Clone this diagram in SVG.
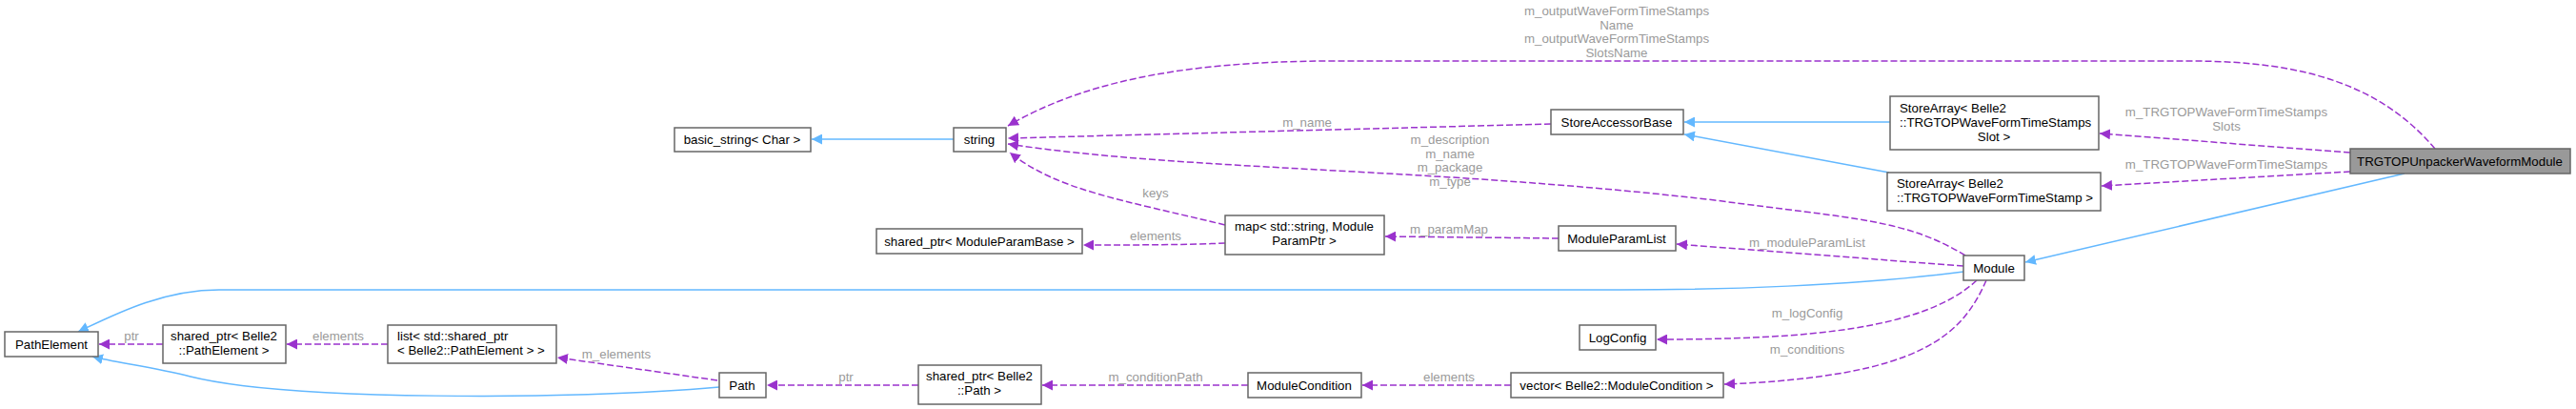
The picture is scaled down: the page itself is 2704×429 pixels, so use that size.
<svg xmlns="http://www.w3.org/2000/svg" width="2704" height="429" viewBox="0 0 2704 429">
<style>
.n rect{fill:#fff;stroke:#666;stroke-width:1.5}
.n text,.t{font-family:"Liberation Sans",Arial,sans-serif;font-size:13.3px;fill:#000;text-anchor:middle}
.l{font-family:"Liberation Sans",Arial,sans-serif;font-size:13.3px;fill:#9a9a9a;text-anchor:middle}
.d{fill:none;stroke:#9a32cd;stroke-width:1.5;stroke-dasharray:7,3}
.b{fill:none;stroke:#63b8ff;stroke-width:1.5}
</style>
<defs>
<marker id="ap" viewBox="0 0 10 10" refX="10" refY="5" markerWidth="11" markerHeight="11" markerUnits="userSpaceOnUse" orient="auto"><path d="M0,0L10,5L0,10z" fill="#9a32cd"/></marker>
<marker id="ab" viewBox="0 0 10 10" refX="10" refY="5" markerWidth="11" markerHeight="11" markerUnits="userSpaceOnUse" orient="auto"><path d="M0,0L10,5L0,10z" fill="#63b8ff"/></marker>
</defs>
<rect width="2704" height="429" fill="#fff"/>
<g id="edges">
<path class="d" marker-end="url(#ap)" d="M2556,156C2500,90 2420,64 2300,64L1400,64C1230,64 1130,90 1058,132"/>
<path class="d" marker-end="url(#ap)" d="M1628,130L1058,145"/>
<path class="d" marker-end="url(#ap)" d="M2063,268C2000,230 1950,230 1800,210C1500,175 1250,180 1058,151"/>
<path class="d" marker-end="url(#ap)" d="M1286,236C1180,210 1110,200 1060,160"/>
<path class="d" marker-end="url(#ap)" d="M1286,255C1240,257 1190,257 1137,257"/>
<path class="d" marker-end="url(#ap)" d="M1636,250L1454,248"/>
<path class="d" marker-end="url(#ap)" d="M2061,279L1760,256"/>
<path class="d" marker-end="url(#ap)" d="M2075,294C2020,345 1900,356 1739,356"/>
<path class="d" marker-end="url(#ap)" d="M2085,294C2060,350 2020,395 1810,403"/>
<path class="d" marker-end="url(#ap)" d="M1586,404L1430,404"/>
<path class="d" marker-end="url(#ap)" d="M1310,404L1094,404"/>
<path class="d" marker-end="url(#ap)" d="M964,404L805,404"/>
<path class="d" marker-end="url(#ap)" d="M753,399L585,375"/>
<path class="d" marker-end="url(#ap)" d="M407,361L301,361"/>
<path class="d" marker-end="url(#ap)" d="M171,361L104,361"/>
<path class="d" marker-end="url(#ap)" d="M2467,160L2204,140"/>
<path class="d" marker-end="url(#ap)" d="M2467,180L2206,195"/>
<path class="b" marker-end="url(#ab)" d="M1001,146L852,146"/>
<path class="b" marker-end="url(#ab)" d="M1984,128L1768,128"/>
<path class="b" marker-end="url(#ab)" d="M1983,181L1768,141"/>
<path class="b" marker-end="url(#ab)" d="M2524,182L2126,275"/>
<path class="b" marker-end="url(#ab)" d="M2061,285C1950,300 1800,304 1700,304L230,304C170,304 120,330 82,348"/>
<path class="b" marker-end="url(#ab)" d="M755,406C600,420 300,420 200,395C160,385 120,380 97,374"/>
<text class="l" x="1697" y="16">m_outputWaveFormTimeStamps</text>
<text class="l" x="1697" y="31">Name</text>
<text class="l" x="1697" y="45">m_outputWaveFormTimeStamps</text>
<text class="l" x="1697" y="60">SlotsName</text>
<text class="l" x="1372" y="133">m_name</text>
<text class="l" x="1522" y="151">m_description</text>
<text class="l" x="1522" y="166">m_name</text>
<text class="l" x="1522" y="180">m_package</text>
<text class="l" x="1522" y="195">m_type</text>
<text class="l" x="1213" y="207">keys</text>
<text class="l" x="1213" y="252">elements</text>
<text class="l" x="1521" y="245">m_paramMap</text>
<text class="l" x="1897" y="259">m_moduleParamList</text>
<text class="l" x="1897" y="333">m_logConfig</text>
<text class="l" x="1897" y="371">m_conditions</text>
<text class="l" x="1521" y="400">elements</text>
<text class="l" x="1213" y="400">m_conditionPath</text>
<text class="l" x="888" y="400">ptr</text>
<text class="l" x="647" y="376">m_elements</text>
<text class="l" x="355" y="357">elements</text>
<text class="l" x="138" y="357">ptr</text>
<text class="l" x="2337" y="122">m_TRGTOPWaveFormTimeStamps</text>
<text class="l" x="2337" y="137">Slots</text>
<text class="l" x="2337" y="177">m_TRGTOPWaveFormTimeStamps</text>
</g>
<g id="TRGTOPUnpackerWaveformModule" class="n"><rect x="2467" y="156" width="231" height="26" style="fill:#999"/><text x="2582" y="174">TRGTOPUnpackerWaveformModule</text></g>
<g id="StoreArraySlot" class="n"><rect x="1984" y="101" width="219" height="56"/><text x="1994" y="118" style="text-anchor:start">StoreArray&lt; Belle2</text><text x="1994" y="133" style="text-anchor:start">::TRGTOPWaveFormTimeStamps</text><text x="2093" y="148">Slot &gt;</text></g>
<g id="StoreArrayStamp" class="n"><rect x="1981" y="181" width="224" height="40"/><text x="1991" y="197" style="text-anchor:start">StoreArray&lt; Belle2</text><text x="1991" y="212" style="text-anchor:start">::TRGTOPWaveFormTimeStamp &gt;</text></g>
<g id="StoreAccessorBase" class="n"><rect x="1628" y="115" width="139" height="26"/><text x="1697" y="133">StoreAccessorBase</text></g>
<g id="string" class="n"><rect x="1001" y="134" width="55" height="25"/><text x="1028" y="151">string</text></g>
<g id="basic_string" class="n"><rect x="708" y="134" width="143" height="25"/><text x="779" y="151">basic_string&lt; Char &gt;</text></g>
<g id="map" class="n"><rect x="1286" y="226" width="167" height="41"/><text x="1369" y="242">map&lt; std::string, Module</text><text x="1369" y="257">ParamPtr &gt;</text></g>
<g id="shared_ptr_MPB" class="n"><rect x="920" y="240" width="216" height="26"/><text x="1028" y="258">shared_ptr&lt; ModuleParamBase &gt;</text></g>
<g id="ModuleParamList" class="n"><rect x="1636" y="237" width="123" height="26"/><text x="1697" y="255">ModuleParamList</text></g>
<g id="Module" class="n"><rect x="2061" y="268" width="64" height="26"/><text x="2093" y="286">Module</text></g>
<g id="LogConfig" class="n"><rect x="1658" y="341" width="80" height="26"/><text x="1698" y="359">LogConfig</text></g>
<g id="vector" class="n"><rect x="1586" y="391" width="223" height="26"/><text x="1697" y="409">vector&lt; Belle2::ModuleCondition &gt;</text></g>
<g id="ModuleCondition" class="n"><rect x="1310" y="391" width="119" height="26"/><text x="1369" y="409">ModuleCondition</text></g>
<g id="shared_ptr_Path" class="n"><rect x="964" y="383" width="129" height="41"/><text x="1028" y="399">shared_ptr&lt; Belle2</text><text x="1028" y="414">::Path &gt;</text></g>
<g id="Path" class="n"><rect x="755" y="391" width="49" height="26"/><text x="779" y="409">Path</text></g>
<g id="list" class="n"><rect x="407" y="341" width="177" height="40"/><text x="417" y="357" style="text-anchor:start">list&lt; std::shared_ptr</text><text x="417" y="372" style="text-anchor:start">&lt; Belle2::PathElement &gt; &gt;</text></g>
<g id="shared_ptr_PE" class="n"><rect x="171" y="341" width="129" height="40"/><text x="235" y="357">shared_ptr&lt; Belle2</text><text x="235" y="372">::PathElement &gt;</text></g>
<g id="PathElement" class="n"><rect x="5" y="348" width="98" height="26"/><text x="54" y="366">PathElement</text></g>
</svg>
